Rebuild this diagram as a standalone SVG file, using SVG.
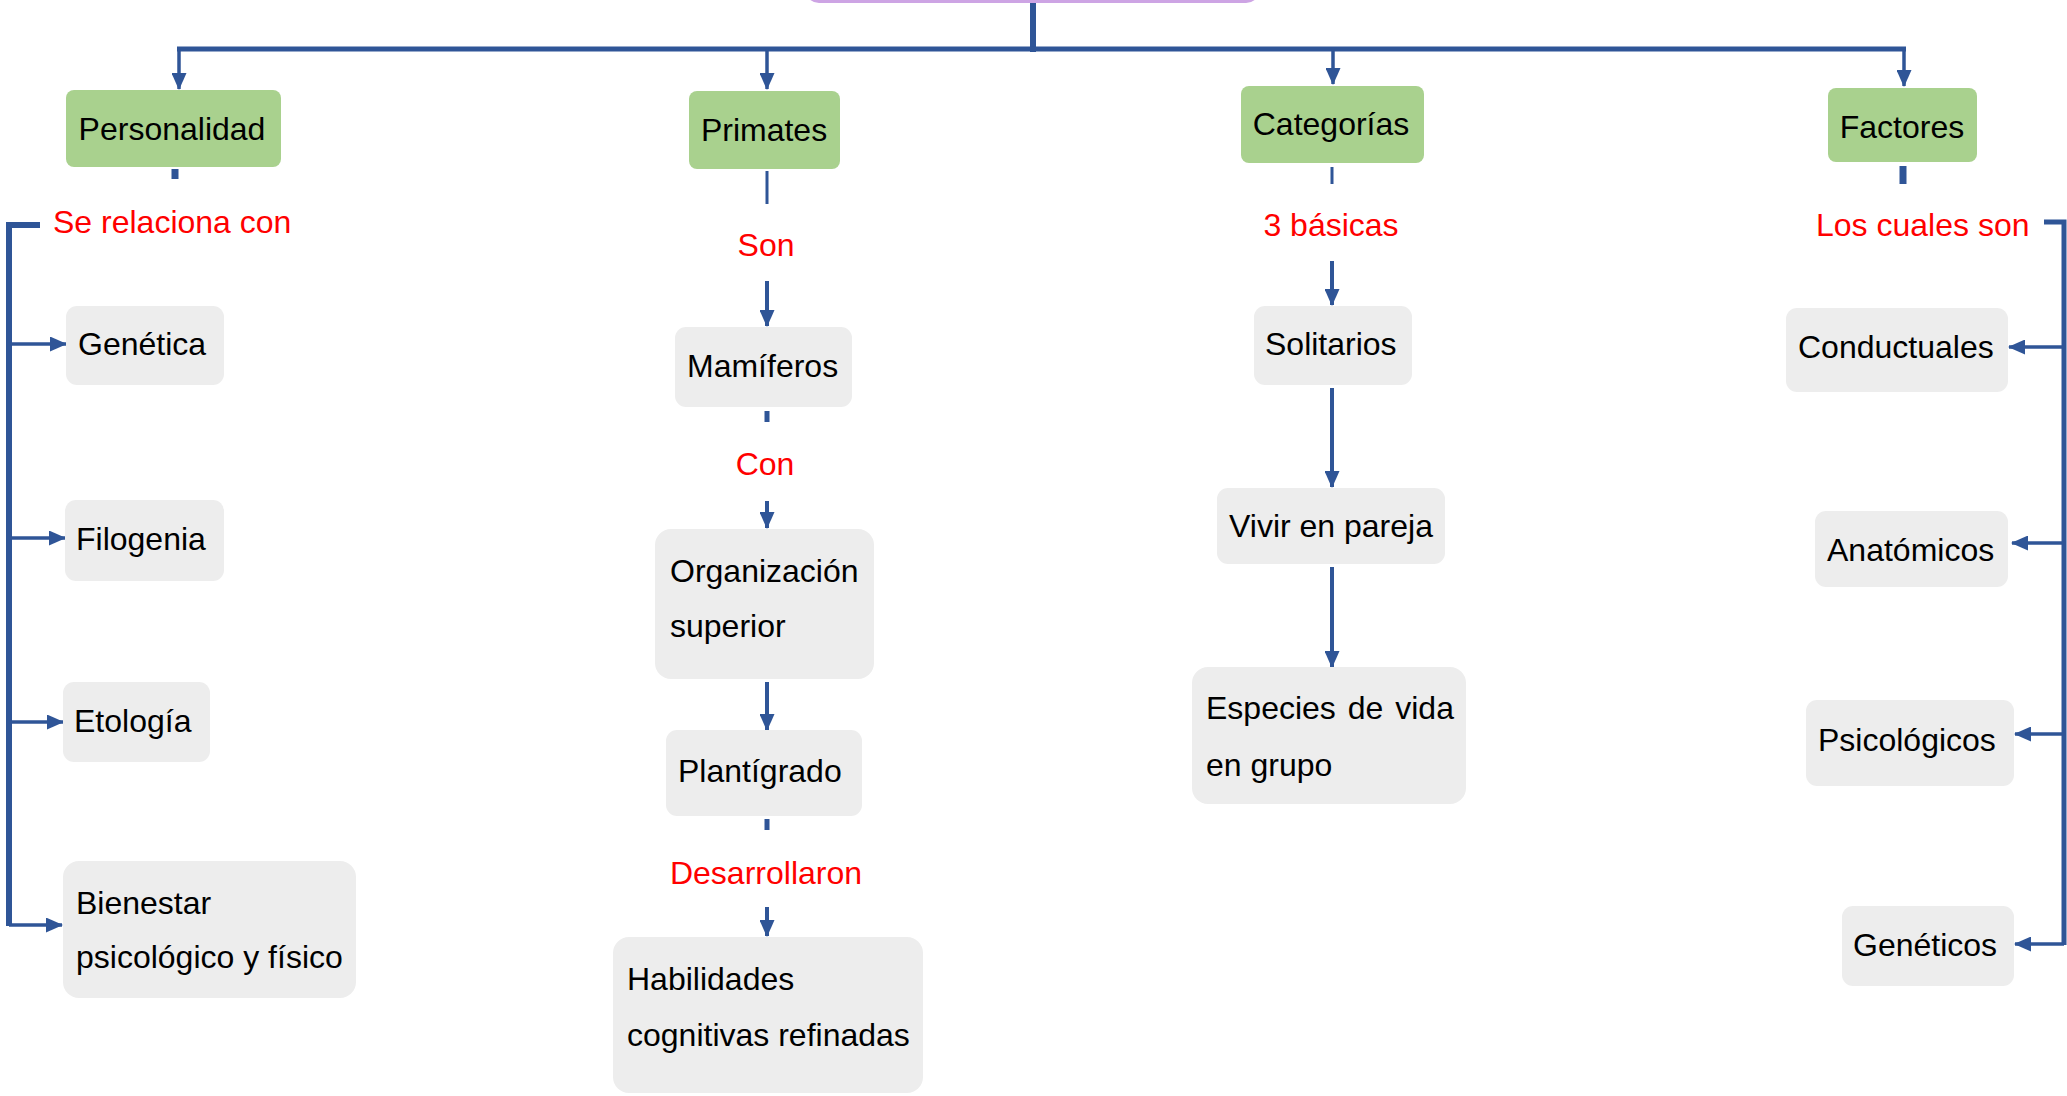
<svg xmlns="http://www.w3.org/2000/svg" width="2067" height="1096" viewBox="0 0 2067 1096">
<defs>
<marker id="ah" markerUnits="userSpaceOnUse" markerWidth="17" markerHeight="15" refX="16" refY="7.5" orient="auto">
<path d="M0,0 L17,7.5 L0,15 z" fill="#2f5597"/>
</marker>
<style>
.g rect{fill:#a9d18e}
.b rect{fill:#ededed}
text{font-family:"Liberation Sans",Arial,sans-serif;font-size:32px;fill:#000}
.lbl{fill:#ff0000}
.c{text-anchor:middle}
.ln{fill:none;stroke:#2f5597;stroke-width:3}
.ar{fill:none;stroke:#2f5597;stroke-width:3.5;marker-end:url(#ah)}
</style>
</defs>
<rect fill="#fff" width="2067" height="1096"/>

<g id="root"><rect x="805" y="-60" width="455" height="63" rx="14" fill="#cda4e4"/></g>

<g id="connectors">
<line class="ln" x1="1033" y1="3" x2="1033" y2="52" style="stroke-width:6"/>
<line class="ln" x1="177" y1="49" x2="1906" y2="49" style="stroke-width:5"/>
<line class="ar" x1="179" y1="49" x2="179" y2="89"/>
<line class="ar" x1="767" y1="49" x2="767" y2="89"/>
<line class="ar" x1="1333" y1="49" x2="1333" y2="84"/>
<line class="ar" x1="1904" y1="49" x2="1904" y2="86"/>

<line class="ln" x1="175" y1="169" x2="175" y2="179" style="stroke-width:7"/>
<path class="ln" d="M40,225 H9 V926" style="stroke-width:6"/>
<path class="ar" d="M9,344 H66"/>
<path class="ar" d="M9,538 H65"/>
<path class="ar" d="M9,722 H63"/>
<path class="ar" d="M9,925 H62"/>

<line class="ln" x1="767" y1="171" x2="767" y2="204"/>
<line class="ar" x1="767" y1="281" x2="767" y2="326" style="stroke-width:4"/>
<line class="ln" x1="767" y1="411" x2="767" y2="422" style="stroke-width:5"/>
<line class="ar" x1="767" y1="501" x2="767" y2="528" style="stroke-width:4"/>
<line class="ar" x1="767" y1="682" x2="767" y2="730" style="stroke-width:4"/>
<line class="ln" x1="767" y1="819" x2="767" y2="830" style="stroke-width:5"/>
<line class="ar" x1="767" y1="907" x2="767" y2="936" style="stroke-width:4"/>

<line class="ln" x1="1332" y1="167" x2="1332" y2="184"/>
<line class="ar" x1="1332" y1="261" x2="1332" y2="305" style="stroke-width:4"/>
<line class="ar" x1="1332" y1="388" x2="1332" y2="487" style="stroke-width:4"/>
<line class="ar" x1="1332" y1="567" x2="1332" y2="667" style="stroke-width:4"/>

<line class="ln" x1="1903" y1="166" x2="1903" y2="184" style="stroke-width:7"/>
<path class="ln" d="M2044,222 H2064 V945" style="stroke-width:5"/>
<path class="ar" d="M2064,347 H2009"/>
<path class="ar" d="M2064,543 H2012"/>
<path class="ar" d="M2064,734 H2015"/>
<path class="ar" d="M2064,944 H2015"/>
</g>

<g id="labels">
<text class="lbl" x="53" y="233">Se relaciona con</text>
<text class="lbl c" x="766" y="256">Son</text>
<text class="lbl c" x="765" y="475">Con</text>
<text class="lbl c" x="766" y="884">Desarrollaron</text>
<text class="lbl c" x="1331" y="236">3 básicas</text>
<text class="lbl" x="1816" y="236">Los cuales son</text>
</g>

<g id="personalidad" class="g"><rect x="66" y="90" width="215" height="77" rx="8"/><text class="c" x="172" y="140">Personalidad</text></g>
<g id="primates" class="g"><rect x="689" y="91" width="151" height="78" rx="8"/><text class="c" x="764" y="141">Primates</text></g>
<g id="categorias" class="g"><rect x="1241" y="86" width="183" height="77" rx="8"/><text class="c" x="1331" y="135">Categorías</text></g>
<g id="factores" class="g"><rect x="1828" y="88" width="149" height="74" rx="8"/><text class="c" x="1902" y="138">Factores</text></g>

<g id="genetica" class="b"><rect x="66" y="306" width="158" height="79" rx="11"/><text x="78" y="355">Genética</text></g>
<g id="filogenia" class="b"><rect x="65" y="500" width="159" height="81" rx="11"/><text x="76" y="550">Filogenia</text></g>
<g id="etologia" class="b"><rect x="63" y="682" width="147" height="80" rx="11"/><text x="74" y="732">Etología</text></g>
<g id="bienestar" class="b"><rect x="63" y="861" width="293" height="137" rx="16"/><text x="76" y="914">Bienestar</text><text x="76" y="968">psicológico y físico</text></g>

<g id="mamiferos" class="b"><rect x="675" y="327" width="177" height="80" rx="11"/><text x="687" y="377">Mamíferos</text></g>
<g id="organizacion" class="b"><rect x="655" y="529" width="219" height="150" rx="16"/><text x="670" y="582">Organización</text><text x="670" y="637">superior</text></g>
<g id="plantigrado" class="b"><rect x="666" y="730" width="196" height="86" rx="11"/><text x="678" y="782">Plantígrado</text></g>
<g id="habilidades" class="b"><rect x="613" y="937" width="310" height="156" rx="16"/><text x="627" y="990">Habilidades</text><text x="627" y="1046">cognitivas refinadas</text></g>

<g id="solitarios" class="b"><rect x="1254" y="306" width="158" height="79" rx="11"/><text x="1265" y="355">Solitarios</text></g>
<g id="pareja" class="b"><rect x="1217" y="488" width="228" height="76" rx="11"/><text x="1229" y="537">Vivir en pareja</text></g>
<g id="especies" class="b"><rect x="1192" y="667" width="274" height="137" rx="16"/><text x="1206" y="719" style="word-spacing:3px">Especies de vida</text><text x="1206" y="776">en grupo</text></g>

<g id="conductuales" class="b"><rect x="1786" y="308" width="222" height="84" rx="11"/><text x="1798" y="358">Conductuales</text></g>
<g id="anatomicos" class="b"><rect x="1815" y="511" width="193" height="76" rx="11"/><text x="1827" y="561">Anatómicos</text></g>
<g id="psicologicos" class="b"><rect x="1806" y="700" width="208" height="86" rx="11"/><text x="1818" y="751">Psicológicos</text></g>
<g id="geneticos" class="b"><rect x="1842" y="906" width="172" height="80" rx="11"/><text x="1853" y="956">Genéticos</text></g>
</svg>
